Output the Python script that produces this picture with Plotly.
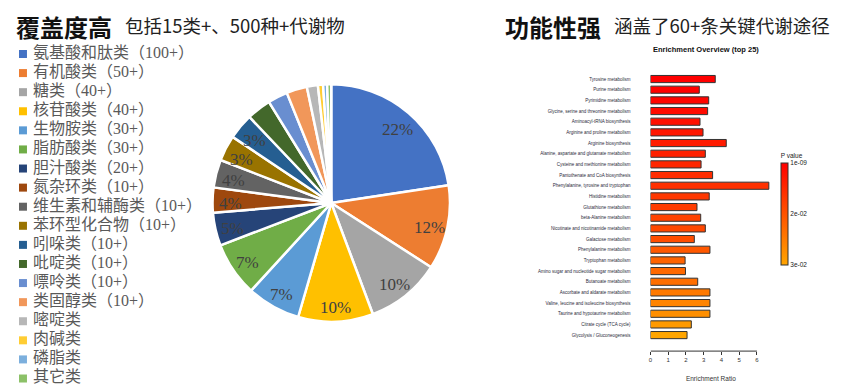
import math
import plotly.graph_objects as go

# ---------------- data ----------------
pie_labels = ["氨基酸和肽类（100+）", "有机酸类（50+）", "糖类（40+）", "核苷酸类（40+）",
              "生物胺类（30+）", "脂肪酸类（30+）", "胆汁酸类（20+）", "氮杂环类（10+）",
              "维生素和辅酶类（10+）", "苯环型化合物（10+）", "吲哚类（10+）", "吡啶类（10+）",
              "嘌呤类（10+）", "类固醇类（10+）", "嘧啶类", "肉碱类", "磷脂类", "其它类"]
pie_values = [22.6, 11.5, 10.2, 10.2, 7.3, 7.4, 4.5, 3.4, 3.8, 3.5, 3.5, 3.3, 2.7, 2.8, 1.5, 0.7, 0.55, 0.55]
pie_text = ["22%", "12%", "10%", "10%", "7%", "7%", "5%", "4%", "4%", "3%", "3%",
            "", "", "", "", "", "", ""]
pie_colors = ["#4472C4", "#ED7D31", "#A5A5A5", "#FFC000", "#5B9BD5", "#70AD47",
              "#264478", "#9E480E", "#636363", "#997300", "#255E91", "#43682B",
              "#698ED0", "#F1975A", "#B7B7B7", "#FFCD33", "#7CAFDD", "#8CC168"]

pathways = ["Tyrosine metabolism", "Purine metabolism", "Pyrimidine metabolism",
            "Glycine, serine and threonine metabolism", "Aminoacyl-tRNA biosynthesis",
            "Arginine and proline metabolism", "Arginine biosynthesis",
            "Alanine, aspartate and glutamate metabolism", "Cysteine and methionine metabolism",
            "Pantothenate and CoA biosynthesis", "Phenylalanine, tyrosine and tryptophan",
            "Histidine metabolism", "Glutathione metabolism", "beta-Alanine metabolism",
            "Nicotinate and nicotinamide metabolism", "Galactose metabolism",
            "Phenylalanine metabolism", "Tryptophan metabolism",
            "Amino sugar and nucleotide sugar metabolism", "Butanoate metabolism",
            "Ascorbate and aldarate metabolism", "Valine, leucine and isoleucine biosynthesis",
            "Taurine and hypotaurine metabolism", "Citrate cycle (TCA cycle)",
            "Glycolysis / Gluconeogenesis"]
enrich_ratio = [3.65, 2.75, 3.28, 3.22, 2.79, 2.96, 4.27, 3.09, 2.85, 3.5, 6.67,
                3.31, 2.62, 2.83, 3.09, 2.47, 3.35, 1.95, 1.97, 2.66, 3.35, 3.35, 3.35, 2.30, 2.06]
p_values = [1e-09, 2e-04, 1e-03, 2e-03, 3e-03, 4e-03, 5e-03, 6e-03, 7e-03, 8e-03, 9e-03,
            1.0e-02, 1.1e-02, 1.2e-02, 1.3e-02, 1.4e-02, 1.6e-02, 1.8e-02, 1.9e-02, 2.0e-02,
            2.2e-02, 2.4e-02, 2.6e-02, 2.8e-02, 3.0e-02]
cbar_ticktext = ["1e-09", "2e-02", "3e-02"]
x_ticks = [0, 1, 2, 3, 4, 5, 6]

W, H = 864, 391
OFF = 8  # page body margin of the html page
CJK = "Noto Sans CJK SC"
SERIF_CJK = "Liberation Serif, Noto Sans CJK SC"


def fx(px):
    return (px - OFF) / W


def fy(py):
    return 1 - (py - OFF) / H


# pie geometry (screen pixels)
PCX, PCY, PR = 330, 203, 119

fig = go.Figure()

fig.add_trace(go.Pie(
    labels=pie_labels, values=pie_values, textinfo="none",
    sort=False, direction="clockwise", rotation=0,
    marker=dict(colors=pie_colors, line=dict(color="white", width=2.5)),
    domain=dict(x=[fx(PCX - PR), fx(PCX + PR)], y=[fy(PCY + PR), fy(PCY - PR)]),
    showlegend=False, hoverinfo="label+percent",
))

# percentage labels placed at each slice's mid-angle
total = sum(pie_values)
annotations = []
cum = 0.0
for v, t in zip(pie_values, pie_text):
    mid = (cum + v / 2) / total * 2 * math.pi
    cum += v
    if not t:
        continue
    lx = PCX + 0.85 * PR * math.sin(mid)
    ly = PCY - 0.85 * PR * math.cos(mid) + 3
    annotations.append(dict(text=t, x=fx(lx), y=fy(ly), xref="paper", yref="paper",
                            xanchor="center", yanchor="middle", showarrow=False,
                            font=dict(family="Liberation Serif", size=17, color="#404040")))

# manual legend (scatter on hidden axes)
fig.add_trace(go.Scatter(
    x=[0] * len(pie_labels), y=pie_labels, mode="markers+text",
    marker=dict(symbol="square", size=8, color=pie_colors),
    text=[" " + l for l in pie_labels], textposition="middle right",
    textfont=dict(family=SERIF_CJK, size=16, color="#595959"),
    xaxis="x3", yaxis="y3", cliponaxis=False, showlegend=False, hoverinfo="skip",
))

# bars
neg_p = [-p for p in p_values]
fig.add_trace(go.Bar(
    x=enrich_ratio, y=pathways, orientation="h",
    marker=dict(color=neg_p, colorscale=[[0, "#FFA500"], [1, "#FF0000"]],
                cmin=-0.03, cmax=-1e-9,
                line=dict(color="#333333", width=1),
                colorbar=dict(
                    title=dict(text="P value", side="top", font=dict(family="Liberation Sans", size=6.5, color="#222")),
                    x=fx(781), xanchor="left", xpad=0, y=fy(208), yanchor="middle", ypad=0,
                    len=114 / H, lenmode="fraction", thickness=7, thicknessmode="pixels",
                    outlinecolor="#333", outlinewidth=1,
                    tickvals=[-1e-9, -0.015, -0.03], ticktext=cbar_ticktext, ticks="",
                    tickfont=dict(family="Liberation Sans", size=6.5, color="#222"),
                )),
    xaxis="x", yaxis="y", showlegend=False,
))

px_per_unit = 17.78
x0_px = 650
xmax = 6.8
title_font_big = dict(family=CJK, size=24, color="#111")
title_font_small = dict(family=CJK, size=18.5, color="#222")
annotations += [
    dict(text="<b>覆盖度高</b>", x=fx(13), y=1, xref="paper", yref="paper",
         xanchor="left", yanchor="top", showarrow=False, borderpad=0, font=title_font_big),
    dict(text="包括15类+、500种+代谢物", x=fx(122), y=1, xref="paper", yref="paper",
         xanchor="left", yanchor="top", showarrow=False, borderpad=0, yshift=-3, font=title_font_small),
    dict(text="<b>功能性强</b>", x=fx(503), y=1, xref="paper", yref="paper",
         xanchor="left", yanchor="top", showarrow=False, borderpad=0, font=title_font_big),
    dict(text="涵盖了60+条关键代谢途径", x=fx(612), y=1, xref="paper", yref="paper",
         xanchor="left", yanchor="top", showarrow=False, borderpad=0, yshift=-3, font=title_font_small),
    dict(text="<b>Enrichment Overview (top 25)</b>", x=fx(650), y=fy(50), xref="paper", yref="paper",
         xanchor="left", yanchor="middle", showarrow=False,
         font=dict(family="Liberation Sans", size=7.5, color="#111")),
]

fig.update_layout(
    width=W, height=H, margin=dict(l=0, r=0, t=0, b=0),
    paper_bgcolor="white", plot_bgcolor="white", bargap=0.33,
    xaxis=dict(domain=[fx(x0_px), fx(x0_px + xmax * px_per_unit)], range=[0, xmax],
               tickvals=x_ticks, showgrid=False, zeroline=False, showline=False,
               ticks="outside", ticklen=3, tickcolor="#333",
               tickfont=dict(family="Liberation Sans", size=6, color="#333"),
               title=dict(text="Enrichment Ratio", font=dict(family="Liberation Sans", size=6.5, color="#333"), standoff=14),
               anchor="y"),
    yaxis=dict(domain=[fy(351.1), fy(73.7)], type="category",
               categoryorder="array", categoryarray=pathways, range=[25.5, -0.5],
               showgrid=False, zeroline=False, showline=False, ticks="",
               ticklabelstandoff=19,
               tickfont=dict(family="Liberation Sans", size=4.5, color="#2a2a3a"),
               anchor="x"),
    xaxis3=dict(domain=[fx(21), 0.3], range=[0, 1], visible=False, fixedrange=True),
    yaxis3=dict(domain=[fy(388.05), fy(44.45)], type="category",
                categoryorder="array", categoryarray=pie_labels, range=[17.5, -0.5],
                visible=False, fixedrange=True, anchor="x3"),
    shapes=[dict(type="line", xref="x", yref="paper", x0=0, x1=6,
                 y0=fy(351.1), y1=fy(351.1), line=dict(color="#333", width=1))],
    annotations=annotations,
)

fig.write_html("out.html")
